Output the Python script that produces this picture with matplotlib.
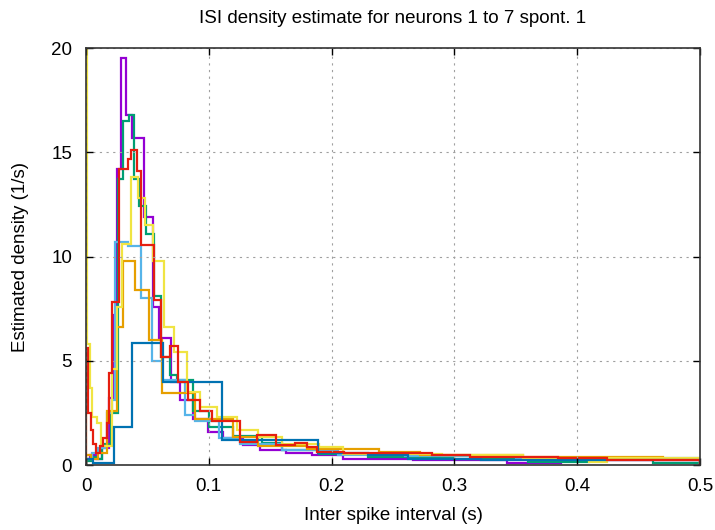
"""ISI density estimates for neurons 1 to 7 (spont. 1), gnuplot-like look."""

import matplotlib
matplotlib.use("Agg")
import matplotlib.pyplot as plt

plt.rcParams.update({"font.family": ["Liberation Sans", "DejaVu Sans"],
                     "font.size": 13.5})

# neuron 1 (purple)
n1_edges = [0.0, 0.003, 0.008, 0.013, 0.019, 0.022, 0.025, 0.0285, 0.0326,
            0.0375, 0.0475, 0.0543, 0.0597, 0.0695, 0.0765, 0.087, 0.0993,
            0.1115, 0.128, 0.142, 0.163, 0.184, 0.209, 0.266, 0.343, 0.387,
            0.5]
n1_dens = [0.3, 0.5, 0.3, 0.8, 3.2, 7.2, 14.2, 19.5, 16.8, 15.7, 11.9, 7.6,
           6.1, 4.0, 3.1, 2.2, 1.6, 1.3, 0.96, 0.72, 0.6, 0.48, 0.3, 0.24,
           0.11, 0.22]

# neuron 2 (green)
n2_edges = [0.0, 0.004, 0.009, 0.013, 0.020, 0.026, 0.0303, 0.0348, 0.0394,
            0.0435, 0.049, 0.0556, 0.0611, 0.068, 0.0745, 0.087, 0.1, 0.12,
            0.143, 0.16, 0.19, 0.23, 0.3, 0.36, 0.41, 0.462, 0.5]
n2_dens = [0.2, 0.4, 0.3, 1.0, 2.5, 13.7, 16.5, 16.8, 13.7, 12.4, 11.1, 8.1,
           5.2, 4.3, 4.1, 2.6, 1.8, 1.4, 1.05, 0.72, 0.55, 0.38, 0.3, 0.14,
           0.3, 0.1]

# neuron 3 (light blue)
n3_edges = [0.0, 0.005, 0.010, 0.017, 0.021, 0.024, 0.034, 0.0448, 0.0535,
            0.062, 0.081, 0.089, 0.108, 0.125, 0.16, 0.205, 0.26, 0.35, 0.42,
            0.5]
n3_dens = [0.3, 0.6, 0.8, 2.5, 3.1, 10.7, 10.5, 8.0, 5.0, 4.1, 2.4, 2.1,
           1.3, 1.0, 0.72, 0.5, 0.45, 0.35, 0.35]

# neuron 4 (orange)
n4_edges = [0.0, 0.004, 0.010, 0.017, 0.0255, 0.0305, 0.04, 0.0515, 0.0615,
            0.0685, 0.089, 0.12, 0.14, 0.18, 0.239, 0.272, 0.356, 0.47, 0.5]
n4_dens = [0.5, 0.3, 0.6, 2.6, 6.6, 9.8, 8.4, 6.0, 3.45, 3.45, 2.2, 1.35, 0.9,
           0.75, 0.62, 0.48, 0.38, 0.3]

# neuron 5 (yellow)
n5_edges = [0.0, 0.0008, 0.003, 0.005, 0.009, 0.012, 0.0215, 0.0255, 0.029,
            0.037, 0.0422, 0.0484, 0.0543, 0.0636, 0.0716, 0.082, 0.093, 0.107,
            0.123, 0.14, 0.16, 0.19, 0.209, 0.29, 0.356, 0.41, 0.424, 0.5]
n5_dens = [22.0, 5.8, 3.7, 2.3, 2.0, 0.9, 4.6, 7.6, 10.6, 13.8, 12.8, 11.5,
           9.8, 6.6, 5.4, 3.5, 2.8, 2.3, 1.68, 1.36, 1.0, 0.88, 0.55, 0.48,
           0.3, 0.16, 0.35]

# neuron 6 (dark blue)
n6_edges = [0.0, 0.006, 0.013, 0.0228, 0.0378, 0.063, 0.1105, 0.189, 0.23,
            0.262, 0.322, 0.5]
n6_dens = [0.3, 0.1, 0.1, 1.84, 5.85, 4.0, 1.2, 0.57, 0.5, 0.29, 0.25]

# neuron 7 (red)
n7_edges = [0.0, 0.002, 0.004, 0.006, 0.008, 0.011, 0.014, 0.017, 0.019,
            0.0215, 0.0265, 0.034, 0.0366, 0.0412, 0.0448, 0.0555, 0.061,
            0.0685, 0.075, 0.083, 0.093, 0.1025, 0.125, 0.139, 0.155, 0.17,
            0.18, 0.188, 0.21, 0.282, 0.313, 0.384, 0.424, 0.5]
n7_dens = [5.6, 2.5, 1.7, 1.0, 0.6, 0.9, 1.3, 2.0, 4.4, 7.8, 14.2, 14.7, 15.1,
           14.1, 10.55, 7.9, 5.2, 5.7, 4.0, 3.1, 2.6, 2.1, 1.1, 1.44, 0.96,
           1.05, 0.88, 0.64, 0.57, 0.48, 0.38, 0.33, 0.25]

series = [(n1_edges, n1_dens, "#9400d3"), (n2_edges, n2_dens, "#009e73"),
          (n3_edges, n3_dens, "#56b4e9"), (n4_edges, n4_dens, "#e69f00"),
          (n5_edges, n5_dens, "#f0e442"), (n6_edges, n6_dens, "#0072b2"),
          (n7_edges, n7_dens, "#e51e10")]

fig = plt.figure(figsize=(7.15, 5.30), dpi=100)
ax = fig.add_axes([0.1203, 0.1226, 0.8587, 0.7868])

for edges, dens, col in series:
    ax.stairs(dens, edges, color=col, lw=1.6)

ax.set_xlim(0, 0.5)
ax.set_ylim(0, 20)
ax.set_xticks([0, 0.1, 0.2, 0.3, 0.4, 0.5])
ax.set_xticklabels(["0", "0.1", "0.2", "0.3", "0.4", "0.5"])
ax.set_yticks([0, 5, 10, 15, 20])
ax.tick_params(direction="in", top=True, right=True, length=5, width=1,
               labelsize=13.5)
ax.tick_params(axis="y", pad=10)
ax.tick_params(axis="x", pad=9)
ax.grid(True, color="#a0a0a0", ls=(0, (2, 4)), lw=0.8)
for s in ax.spines.values():
    s.set_linewidth(1.2)
    s.set_color("#333333")

ax.set_title("ISI density estimate for neurons 1 to 7 spont. 1",
             fontsize=13.5, pad=18)
ax.set_xlabel("Inter spike interval (s)", fontsize=13.5, labelpad=9)
ax.set_ylabel("Estimated density (1/s)", fontsize=13.5, labelpad=16)

fig.savefig("out.png", dpi=100)
